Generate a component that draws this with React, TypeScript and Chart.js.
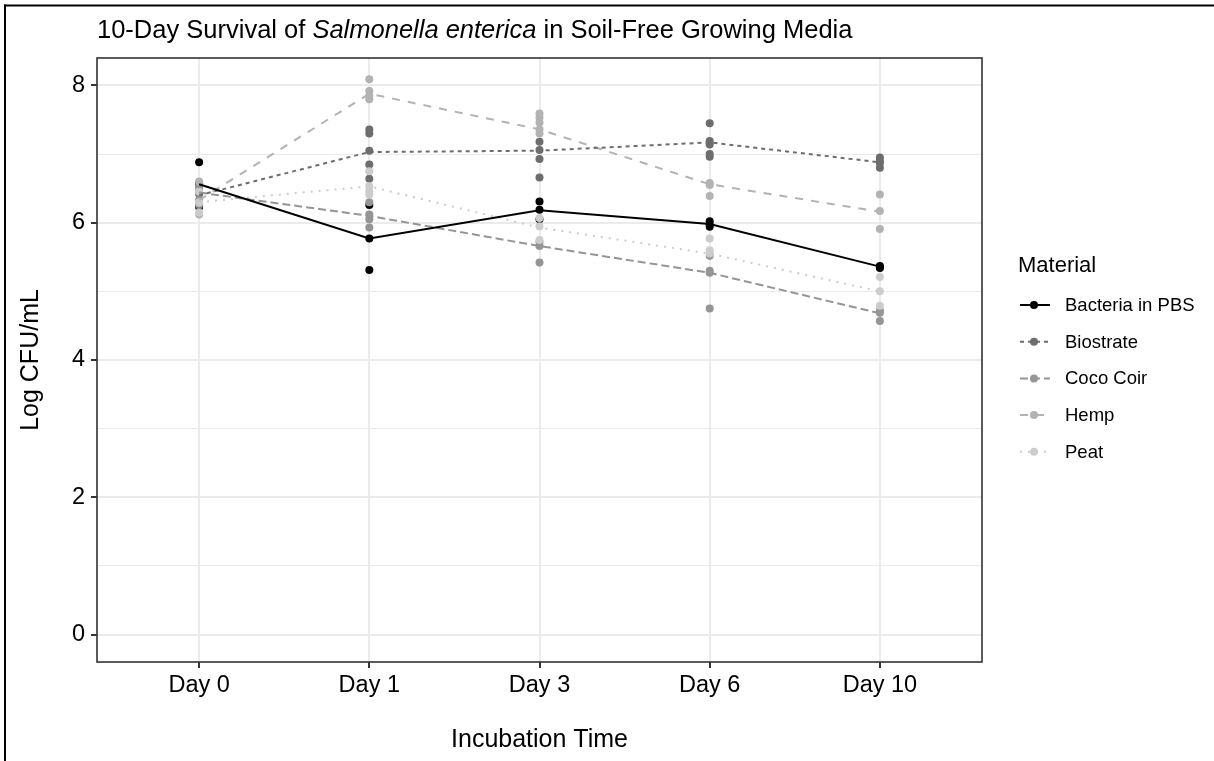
import React, { useEffect, useRef } from 'react';
import { Chart, registerables } from 'chart.js';

Chart.register(...registerables);

// ---------------- data ----------------
const dayLabels = ['Day 0', 'Day 1', 'Day 3', 'Day 6', 'Day 10'];
const materials = ['Bacteria in PBS', 'Biostrate', 'Coco Coir', 'Hemp', 'Peat'];
const yTickValues = [0, 1, 2, 3, 4, 5, 6, 7, 8];

const titlePre = '10-Day Survival of ';
const titleItalic = 'Salmonella enterica';
const titlePost = ' in Soil-Free Growing Media';
const xTitle = 'Incubation Time';
const yTitle = 'Log CFU/mL';
const legendTitle = 'Material';

// line (mean) values per day
const meanPBS = [6.56, 5.77, 6.18, 5.98, 5.36];
const meanBiostrate = [6.40, 7.03, 7.05, 7.17, 6.88];
const meanCocoCoir = [6.44, 6.10, 5.66, 5.27, 4.68];
const meanHemp = [6.33, 7.88, 7.36, 6.56, 6.16];
const meanPeat = [6.30, 6.53, 5.93, 5.55, 5.00];

// replicate points per day
const repPBS = [[6.88, 6.57, 6.23], [6.26, 5.77, 5.31], [6.31, 6.19, 6.05], [6.02, 5.97, 5.94], [5.37, 5.35, 5.34]];
const repBiostrate = [[6.55, 6.42, 6.25], [7.36, 7.30, 7.05, 6.85, 6.64], [7.18, 7.06, 6.93, 6.66], [7.45, 7.19, 7.14, 7.00, 6.96], [6.95, 6.90, 6.87, 6.80]];
const repCocoCoir = [[6.52, 6.47, 6.33], [6.30, 6.12, 6.05, 5.93], [5.72, 5.66, 5.42], [5.52, 5.30, 5.27, 4.75], [4.72, 4.69, 4.57]];
const repHemp = [[6.60, 6.28, 6.12], [8.09, 7.92, 7.85, 7.80], [7.59, 7.53, 7.46, 7.36, 7.30], [6.58, 6.55, 6.39], [6.41, 6.17, 5.91]];
const repPeat = [[6.45, 6.30, 6.15], [6.75, 6.53, 6.46, 6.41], [6.07, 5.95, 5.75], [5.77, 5.60, 5.55], [5.21, 5.00, 4.79]];

const means = [meanPBS, meanBiostrate, meanCocoCoir, meanHemp, meanPeat];
const reps = [repPBS, repBiostrate, repCocoCoir, repHemp, repPeat];

// ---------------- styles ----------------
const colors = ['#000000', '#6D6D6D', '#959595', '#B3B3B3', '#CCCCCC'];
const dashes = [[], [4, 4], [8, 4], [8, 8], [2, 6]];
const FONT = "'Liberation Sans', Arial, Helvetica, sans-serif";

const decorPlugin = {
  id: 'ggDecor',
  afterDraw(chart: any) {
    const ctx = chart.ctx as CanvasRenderingContext2D;
    const ca = chart.chartArea;
    ctx.save();
    // panel border
    ctx.strokeStyle = '#333333';
    ctx.lineWidth = 1.6;
    ctx.strokeRect(ca.left, ca.top, ca.right - ca.left, ca.bottom - ca.top);

    // outer frame (top + left)
    ctx.fillStyle = '#000000';
    ctx.fillRect(4, 4.5, chart.width - 4, 2);
    ctx.fillRect(4, 4.5, 2, chart.height - 4);

    // title
    ctx.fillStyle = '#000000';
    ctx.textAlign = 'left';
    ctx.textBaseline = 'alphabetic';
    let x = ca.left;
    const ty = 38;
    const parts: [string, boolean][] = [[titlePre, false], [titleItalic, true], [titlePost, false]];
    for (const [t, it] of parts) {
      ctx.font = `${it ? 'italic ' : ''}25.5px ${FONT}`;
      ctx.fillText(t, x, ty);
      x += ctx.measureText(t).width;
    }

    // legend
    const lx = 1018;
    ctx.font = `22px ${FONT}`;
    ctx.fillText(legendTitle, lx, 272);
    const lines = chart.data.datasets.filter((d: any) => d.isMean);
    lines.forEach((d: any, i: number) => {
      const cy = 305 + i * 36.7;
      ctx.save();
      ctx.strokeStyle = d.borderColor;
      ctx.lineWidth = d.borderWidth;
      ctx.setLineDash(d.borderDash || []);
      ctx.beginPath();
      ctx.moveTo(lx + 2, cy);
      ctx.lineTo(lx + 32, cy);
      ctx.stroke();
      ctx.restore();
      ctx.fillStyle = d.borderColor;
      ctx.beginPath();
      ctx.arc(lx + 16, cy, 4, 0, Math.PI * 2);
      ctx.fill();
      ctx.fillStyle = '#000000';
      ctx.font = `18.5px ${FONT}`;
      ctx.textBaseline = 'middle';
      ctx.fillText(d.label, lx + 47, cy + 1);
      ctx.textBaseline = 'alphabetic';
    });
    ctx.restore();
  },
};

export default function App() {
  const canvasRef = useRef<HTMLCanvasElement | null>(null);

  useEffect(() => {
    document.body.style.margin = '0';
    document.body.style.overflow = 'hidden';
    const canvas = canvasRef.current;
    if (!canvas) return;

    const lineSets = materials.map((m, i) => ({
      type: 'line' as const,
      label: m,
      isMean: true,
      data: means[i].map((v, d) => ({ x: d, y: v })),
      borderColor: colors[i],
      backgroundColor: colors[i],
      borderWidth: 2,
      borderDash: dashes[i],
      pointRadius: 0,
      fill: false,
      tension: 0,
      order: 0,
    }));
    const pointSets = materials.map((m, i) => ({
      type: 'line' as const,
      label: m + ' (replicates)',
      isMean: false,
      data: reps[i].flatMap((arr, d) => arr.map((v) => ({ x: d, y: v }))),
      showLine: false,
      borderColor: colors[i],
      backgroundColor: colors[i],
      pointRadius: 4,
      pointBorderWidth: 0,
      order: 1 + (materials.length - 1 - i),
    }));

    const chart = new Chart(canvas, {
      type: 'line',
      data: { datasets: [...lineSets, ...pointSets] as any },
      options: {
        responsive: false,
        animation: false,
        events: [],
        layout: { padding: { top: 58, right: 232, left: 0, bottom: 0 } },
        plugins: {
          legend: { display: false },
          title: { display: false },
          tooltip: { enabled: false },
        },
        scales: {
          x: {
            type: 'linear',
            min: -0.6,
            max: dayLabels.length - 1 + 0.6,
            afterBuildTicks: (scale: any) => {
              scale.ticks = dayLabels.map((_, i) => ({ value: i }));
            },
            afterFit: (scale: any) => {
              scale.height = 99;
            },
            border: { display: false },
            grid: {
              color: '#EBEBEB',
              lineWidth: 2,
              tickColor: '#333333',
              tickWidth: 2,
              tickLength: 6,
            },
            ticks: {
              autoSkip: false,
              maxRotation: 0,
              padding: 3,
              color: '#000000',
              font: { family: FONT, size: 23.5 },
              callback: (v: any) => dayLabels[v as number] ?? '',
            },
            title: {
              display: true,
              text: xTitle,
              color: '#000000',
              font: { family: FONT, size: 25 },
              padding: { top: 0, bottom: 6 },
            },
          },
          y: {
            type: 'linear',
            min: -0.4,
            max: 8.4,
            afterBuildTicks: (scale: any) => {
              scale.ticks = yTickValues.map((v) => ({ value: v }));
            },
            afterFit: (scale: any) => {
              scale.width = 97;
            },
            border: { display: false },
            grid: {
              color: '#EBEBEB',
              lineWidth: (c: any) => (c.tick && c.tick.value % 2 !== 0 ? 1 : 2),
              tickColor: (c: any) => (c.tick && c.tick.value % 2 !== 0 ? 'rgba(0,0,0,0)' : '#333333'),
              tickWidth: 2,
              tickLength: 6,
            },
            ticks: {
              autoSkip: false,
              padding: 6,
              color: '#000000',
              font: { family: FONT, size: 23.5 },
              callback: (v: any) => ((v as number) % 2 === 0 ? String(v) : ''),
            },
            title: {
              display: true,
              text: yTitle,
              color: '#000000',
              font: { family: FONT, size: 25 },
              padding: { top: 16, bottom: 0 },
            },
          },
        },
      },
      plugins: [decorPlugin],
    });

    return () => chart.destroy();
  }, []);

  return (
    <div style={{ width: 1214, height: 761, background: '#ffffff' }}>
      <canvas ref={canvasRef} width={1214} height={761} style={{ display: 'block' }} />
    </div>
  );
}
